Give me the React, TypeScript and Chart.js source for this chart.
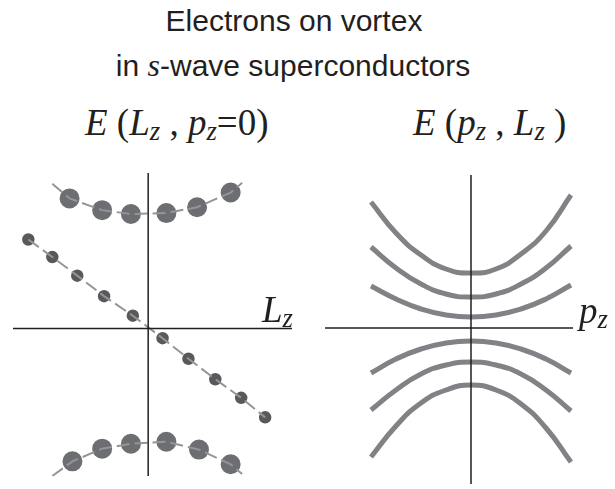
import React, { useEffect, useRef } from "react";
import { Chart, registerables } from "chart.js";
Chart.register(...registerables);

// ---- Left panel: E(Lz, pz=0) ----
const LZ_UPPER = [-8.2, -4.8, -1.8, 1.9, 5.1, 8.6];
const E_UPPER = [13.3, 12.1, 11.7, 11.8, 12.4, 13.9];
const LZ_LOWER = [-7.9, -4.8, -1.8, 1.9, 5.3, 8.6];
const E_LOWER = [-13.6, -12.3, -11.8, -11.6, -12.4, -13.9];
const LZ_UPPER_TRACE = [-10.0, ...LZ_UPPER, 9.8];
const E_UPPER_TRACE = [14.8, ...E_UPPER, 14.9];
const LZ_LOWER_TRACE = [-10.0, ...LZ_LOWER, 9.8];
const E_LOWER_TRACE = [-15.1, ...E_LOWER, -14.9];
const LZ_CORE = [-12.5, -10.0, -7.4, -4.6, -1.6, 1.5, 4.2, 7.0, 9.7, 12.2];
const E_CORE = [9.1, 7.3, 5.4, 3.3, 1.3, -1.0, -3.1, -5.2, -7.1, -9.1];

// ---- Right panel: E(pz, Lz) ----
const PZ = [-10, -7.5, -5, -2.5, 0, 2.5, 5, 7.5, 10];
const E_BRANCH_1 = [12.6, 9.5, 7.3, 5.9, 5.5, 5.9, 7.4, 9.7, 13.3];
const E_BRANCH_2 = [8.1, 6.0, 4.4, 3.4, 3.1, 3.4, 4.4, 6.0, 8.2];
const E_BRANCH_3 = [4.2, 2.9, 1.9, 1.3, 1.1, 1.3, 1.9, 2.9, 4.3];
const E_BRANCH_4 = [-4.5, -3.1, -2.1, -1.5, -1.3, -1.5, -2.1, -3.1, -4.5];
const E_BRANCH_5 = [-8.2, -6.2, -4.6, -3.7, -3.4, -3.7, -4.6, -6.2, -8.3];
const E_BRANCH_6 = [-12.9, -9.8, -7.5, -6.2, -5.7, -6.2, -7.6, -10.0, -13.4];

const INK = "#231f20";
const zip = (xs: number[], ys: number[]) => xs.map((x, i) => ({ x, y: ys[i] }));

const crossAxes = {
  id: "crossAxes",
  afterDatasetsDraw(chart: any) {
    const { ctx, chartArea: a, scales } = chart;
    const x0 = scales.x.getPixelForValue(0);
    const y0 = scales.y.getPixelForValue(0);
    ctx.save();
    ctx.strokeStyle = INK;
    ctx.lineWidth = 1.5;
    ctx.beginPath();
    ctx.moveTo(a.left, y0);
    ctx.lineTo(a.right, y0);
    ctx.moveTo(x0, a.top);
    ctx.lineTo(x0, a.bottom);
    ctx.stroke();
    ctx.restore();
  },
};

function Panel({ left, config }: { left: number; config: any }) {
  const ref = useRef<HTMLCanvasElement>(null);
  useEffect(() => {
    const chart = new Chart(ref.current as HTMLCanvasElement, config);
    return () => chart.destroy();
  }, []);
  return (
    <canvas
      ref={ref}
      width={305}
      height={329}
      style={{ position: "absolute", left, top: 160, width: 305, height: 329 }}
    />
  );
}

const baseOptions = (pad: any, xr: number[], yr: number[]) => ({
  responsive: false,
  animation: false,
  devicePixelRatio: 1,
  layout: { padding: pad },
  plugins: { legend: { display: false }, tooltip: { enabled: false }, title: { display: false } },
  scales: {
    x: { type: "linear", display: false, min: xr[0], max: xr[1] },
    y: { type: "linear", display: false, min: yr[0], max: yr[1] },
  },
});

const traceStyle = {
  showLine: true,
  borderColor: "#939598",
  borderWidth: 2,
  borderDash: [13, 5],
  pointRadius: 0,
  fill: false,
};

const bigDots = (xs: number[], ys: number[]) => ({
  data: zip(xs, ys),
  pointRadius: 11,
  pointBackgroundColor: "#6d6e71",
  pointBorderColor: "#ffffff",
  pointBorderWidth: 2,
  showLine: false,
});

const leftConfig = {
  type: "scatter",
  data: {
    datasets: [
      { ...traceStyle, data: zip(LZ_UPPER_TRACE, E_UPPER_TRACE) },
      { ...traceStyle, data: zip(LZ_LOWER_TRACE, E_LOWER_TRACE) },
      { ...traceStyle, data: zip(LZ_CORE, E_CORE) },
      bigDots(LZ_UPPER, E_UPPER),
      bigDots(LZ_LOWER, E_LOWER),
      {
        data: zip(LZ_CORE, E_CORE),
        pointRadius: 7,
        pointBackgroundColor: "#58595b",
        pointBorderColor: "#ffffff",
        pointBorderWidth: 1.5,
        showLine: false,
      },
    ],
  },
  options: baseOptions({ left: 6, right: 8, top: 12, bottom: 7 }, [-14.1, 15.0], [-15.1, 15.9]),
  plugins: [crossAxes],
};

const branch = (ys: number[]) => ({
  data: zip(PZ, ys),
  showLine: true,
  borderColor: "#808285",
  borderWidth: 5,
  pointRadius: 0,
  tension: 0.5,
  fill: false,
});

const rightConfig = {
  type: "scatter",
  data: {
    datasets: [E_BRANCH_1, E_BRANCH_2, E_BRANCH_3, E_BRANCH_4, E_BRANCH_5, E_BRANCH_6].map(branch),
  },
  options: baseOptions({ left: 15, right: 42, top: 15, bottom: 5 }, [-14.6, 10.2], [-15.6, 15.3]),
  plugins: [crossAxes],
};

const serif = '"Liberation Serif", "Times New Roman", serif';
const sans = '"Liberation Sans", Arial, Helvetica, sans-serif';

const Sub = ({ children }: { children: any }) => (
  <span style={{ fontSize: "0.72em", position: "relative", top: "0.2em", fontStyle: "italic" }}>{children}</span>
);
const I = ({ children }: { children: any }) => <span style={{ fontStyle: "italic" }}>{children}</span>;

const textBase: any = { position: "absolute", whiteSpace: "nowrap", color: INK };

export default function App() {
  useEffect(() => {
    document.body.style.margin = "0";
  }, []);
  return (
    <div style={{ position: "relative", width: 615, height: 489, background: "#fff", overflow: "hidden" }}>
      <div style={{ ...textBase, left: 0, width: 588, top: 6, textAlign: "center", font: `30px/30px ${sans}` }}>
        Electrons on vortex
      </div>
      <div style={{ ...textBase, left: 0, width: 586, top: 50, textAlign: "center", font: `30px/30px ${sans}` }}>
        in <span style={{ fontFamily: serif, fontStyle: "italic", fontSize: "32px" }}>s</span>-wave superconductors
      </div>
      <div style={{ ...textBase, left: 85, top: 104, font: `37px/37px ${serif}` }}>
        <I>E</I> (<I>L</I><Sub>z</Sub> , <I>p</I><Sub>z</Sub>=0)
      </div>
      <div style={{ ...textBase, left: 413, top: 104, font: `37px/37px ${serif}` }}>
        <I>E</I> (<I>p</I><Sub>z</Sub> , <I>L</I><Sub>z</Sub> )
      </div>
      <Panel left={0} config={leftConfig} />
      <Panel left={310} config={rightConfig} />
      <div style={{ ...textBase, left: 262, top: 291, font: `37px/37px ${serif}` }}>
        <I>L</I><Sub>z</Sub>
      </div>
      <div style={{ ...textBase, left: 579, top: 292, font: `37px/37px ${serif}` }}>
        <I>p</I><Sub>z</Sub>
      </div>
    </div>
  );
}
